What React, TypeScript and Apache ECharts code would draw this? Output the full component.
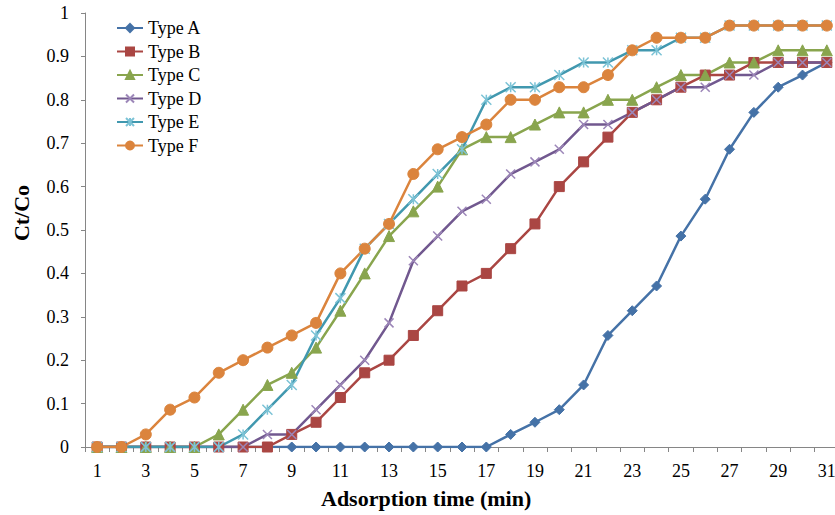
import React, { useEffect, useRef } from "react";
import * as echarts from "echarts";

const categories = Array.from({ length: 31 }, (_, i) => String(i + 1));
const typeA = [0, 0, 0, 0, 0, 0, 0, 0, 0, 0, 0, 0, 0, 0, 0, 0, 0, 0.029, 0.057, 0.086, 0.143, 0.257, 0.314, 0.371, 0.486, 0.571, 0.686, 0.771, 0.829, 0.857, 0.886];
const typeB = [0, 0, 0, 0, 0, 0, 0, 0, 0.029, 0.057, 0.114, 0.171, 0.2, 0.257, 0.314, 0.371, 0.4, 0.457, 0.514, 0.6, 0.657, 0.714, 0.771, 0.8, 0.829, 0.857, 0.857, 0.886, 0.886, 0.886, 0.886];
const typeC = [0, 0, 0, 0, 0, 0.029, 0.086, 0.143, 0.171, 0.229, 0.314, 0.4, 0.486, 0.543, 0.6, 0.686, 0.714, 0.714, 0.743, 0.771, 0.771, 0.8, 0.8, 0.829, 0.857, 0.857, 0.886, 0.886, 0.914, 0.914, 0.914];
const typeD = [0, 0, 0, 0, 0, 0, 0, 0.029, 0.029, 0.086, 0.143, 0.2, 0.286, 0.429, 0.486, 0.543, 0.571, 0.629, 0.657, 0.686, 0.743, 0.743, 0.771, 0.8, 0.829, 0.829, 0.857, 0.857, 0.886, 0.886, 0.886];
const typeE = [0, 0, 0, 0, 0, 0, 0.029, 0.086, 0.143, 0.257, 0.343, 0.457, 0.514, 0.571, 0.629, 0.686, 0.8, 0.829, 0.829, 0.857, 0.886, 0.886, 0.914, 0.914, 0.943, 0.943, 0.971, 0.971, 0.971, 0.971, 0.971];
const typeF = [0, 0, 0.029, 0.086, 0.114, 0.171, 0.2, 0.229, 0.257, 0.286, 0.4, 0.457, 0.514, 0.629, 0.686, 0.714, 0.743, 0.8, 0.8, 0.829, 0.829, 0.857, 0.914, 0.943, 0.943, 0.943, 0.971, 0.971, 0.971, 0.971, 0.971];
const seriesNames = ["Type A", "Type B", "Type C", "Type D", "Type E", "Type F"];
const xTitle = "Adsorption time (min)";
const yTitle = "Ct/Co";

const FONT = "Liberation Serif";

export default function App() {
  const ref = useRef<HTMLDivElement>(null);
  useEffect(() => {
    if (!ref.current) return;
    const chart = echarts.init(ref.current, undefined, { renderer: "svg" });
    const mk = (
      name: string,
      data: number[],
      color: string,
      symbol: string,
      symbolSize: number,
      extra: any = {}
    ) => ({
      name,
      type: "line",
      data,
      symbol,
      symbolSize,
      showSymbol: true,
      lineStyle: { color, width: 2.5 },
      itemStyle: { color, borderColor: color, borderWidth: 1, ...extra },
      emphasis: { disabled: true },
    });
    chart.setOption({
      animation: false,
      textStyle: { fontFamily: FONT },
      grid: { left: 85, top: 13, width: 754, height: 434, outerBoundsMode: "none", containLabel: false },
      legend: {
        orient: "vertical",
        left: 116,
        top: 19,
        padding: 0,
        itemWidth: 26,
        itemHeight: 10,
        itemGap: 5.5,
        data: seriesNames,
        textStyle: { fontFamily: FONT, fontSize: 18, color: "#000", lineHeight: 18 },
      },
      xAxis: {
        type: "category",
        data: categories,
        boundaryGap: true,
        axisLine: { lineStyle: { color: "#868686", width: 1 } },
        axisTick: { show: true, interval: 0, length: 5, lineStyle: { color: "#868686" } },
        axisLabel: { interval: 1, margin: 15, fontFamily: FONT, fontSize: 18, color: "#000", hideOverlap: false },
        splitLine: { show: false },
      },
      yAxis: {
        type: "value",
        min: 0,
        max: 1,
        interval: 0.1,
        axisLine: { show: true, lineStyle: { color: "#868686", width: 1 } },
        axisTick: { show: true, length: 4, lineStyle: { color: "#868686" } },
        axisLabel: { margin: 16, fontFamily: FONT, fontSize: 18, color: "#000" },
        splitLine: { show: false },
      },
      graphic: [
        {
          type: "text",
          left: 321,
          top: 487,
          style: {
            text: xTitle,
            font: `bold 22px ${FONT}`,
            fill: "#000",
          },
        },
        {
          type: "text",
          x: 21,
          y: 213,
          rotation: Math.PI / 2,
          style: {
            text: yTitle,
            font: `bold 22px ${FONT}`,
            fill: "#000",
            align: "center",
            verticalAlign: "middle",
          },
        },
      ],
      series: [
        mk("Type A", typeA, "#4572A7", "diamond", 10),
        mk("Type B", typeB, "#AA4643", "rect", 10),
        mk("Type C", typeC, "#89A54E", "triangle", 11),
        mk("Type D", typeD, "#71588F", "path://M0,0L10,10M10,0L0,10", 9, {
          borderColor: "#9C86B8",
          borderWidth: 1.5,
        }),
        mk("Type E", typeE, "#4198AF", "path://M0,0L10,10M10,0L0,10M5,0L5,10", 10, {
          borderColor: "#7CC3D6",
          borderWidth: 1.5,
        }),
        mk("Type F", typeF, "#DB843D", "circle", 11),
      ],
    });
    return () => chart.dispose();
  }, []);
  return (
    <div
      ref={ref}
      style={{ position: "fixed", left: 0, top: 0, width: 835, height: 515, background: "#fff" }}
    />
  );
}
